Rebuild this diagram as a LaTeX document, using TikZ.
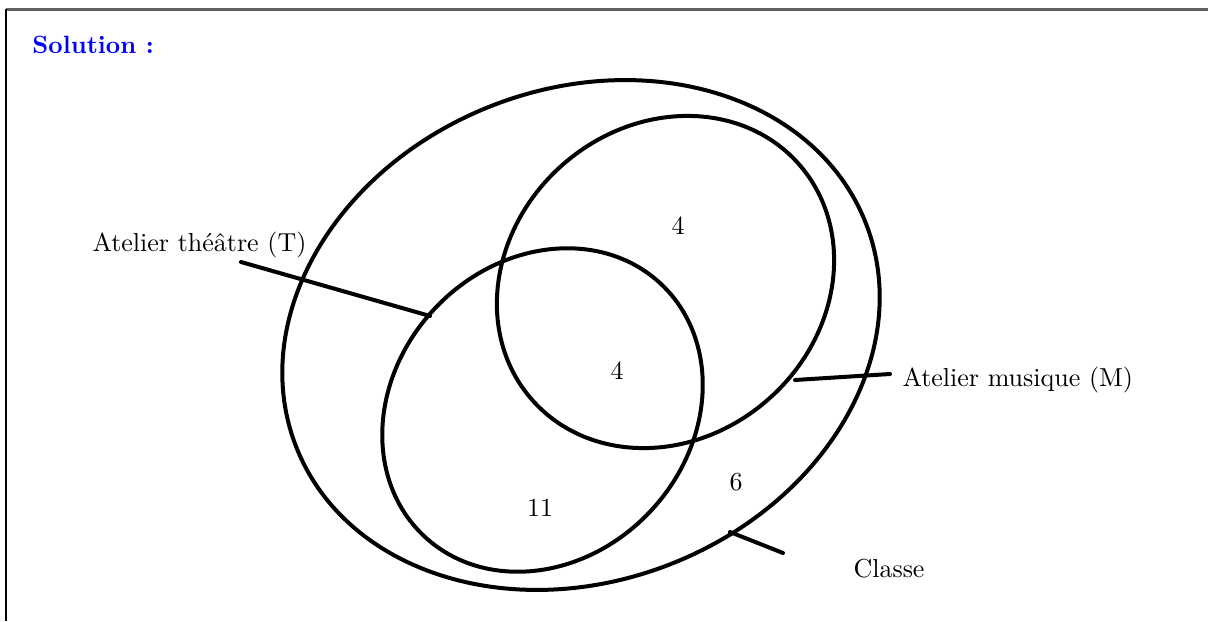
\documentclass[tikz,border=0pt]{standalone}
\usepackage{tikz}
\usetikzlibrary{positioning}
\definecolor{solblue}{RGB}{0,0,255}

\begin{document}
\begin{tikzpicture}[
        x=0.4pt, y=-0.4pt,
        setline/.style={line width=1.6pt, black},
        pointer/.style={line width=1.6pt, line cap=round, black},
        tag/.style={text=black, inner sep=0pt, anchor=base west, font=\fontsize{10.4}{12}\selectfont},
        nb/.style={text=black, inner sep=0pt, font=\fontsize{10.4}{12}\selectfont}
    ]
    \useasboundingbox (0,0) rectangle (1208,621);

    % Frame
    \draw[gray!75!black, line width=0.9pt] (6,9.5) -- (1208,9.5);
    \draw[black, line width=0.5pt] (6,9) -- (6,621);
    \node[font=\bfseries, text=solblue, inner sep=0pt, anchor=base west] (sol) at (32,53) {Solution :};

    % Sets
    \draw[setline, rotate around={21.5:(581,335)}] (581,335) ellipse [x radius=306, y radius=246];
    \draw[setline, rotate around={41.7:(665.5,282)}] (665.5,282) ellipse [x radius=178, y radius=156];
    \draw[setline, rotate around={46.7:(542.5,410)}] (542.5,410) ellipse [x radius=173, y radius=148];

    % Pointers
    \coordinate (tIn) at (430,316);
    \coordinate (tOut) at (241,262);
    \coordinate (mIn) at (795,380);
    \coordinate (mOut) at (890,374);
    \coordinate (cIn) at (730,532);
    \coordinate (cOut) at (783,553);
    \draw[pointer] (tOut) -- (tIn);
    \draw[pointer] (mIn) -- (mOut);
    \draw[pointer] (cIn) -- (cOut);

    \node[tag] (tLab) at (92,251) {Atelier théâtre (T)};
    \node[tag] (mLab) at (902,386) {Atelier musique (M)};
    \node[tag] (cLab) at (853,577) {Classe};

    % Counts
    \node[nb] (onlyM) at (678,226) {4};
    \node[nb] (both) at (617,371) {4};
    \node[nb] (onlyT) at (540,508) {11};
    \node[nb] (none) at (736,482) {6};
\end{tikzpicture}
\end{document}
